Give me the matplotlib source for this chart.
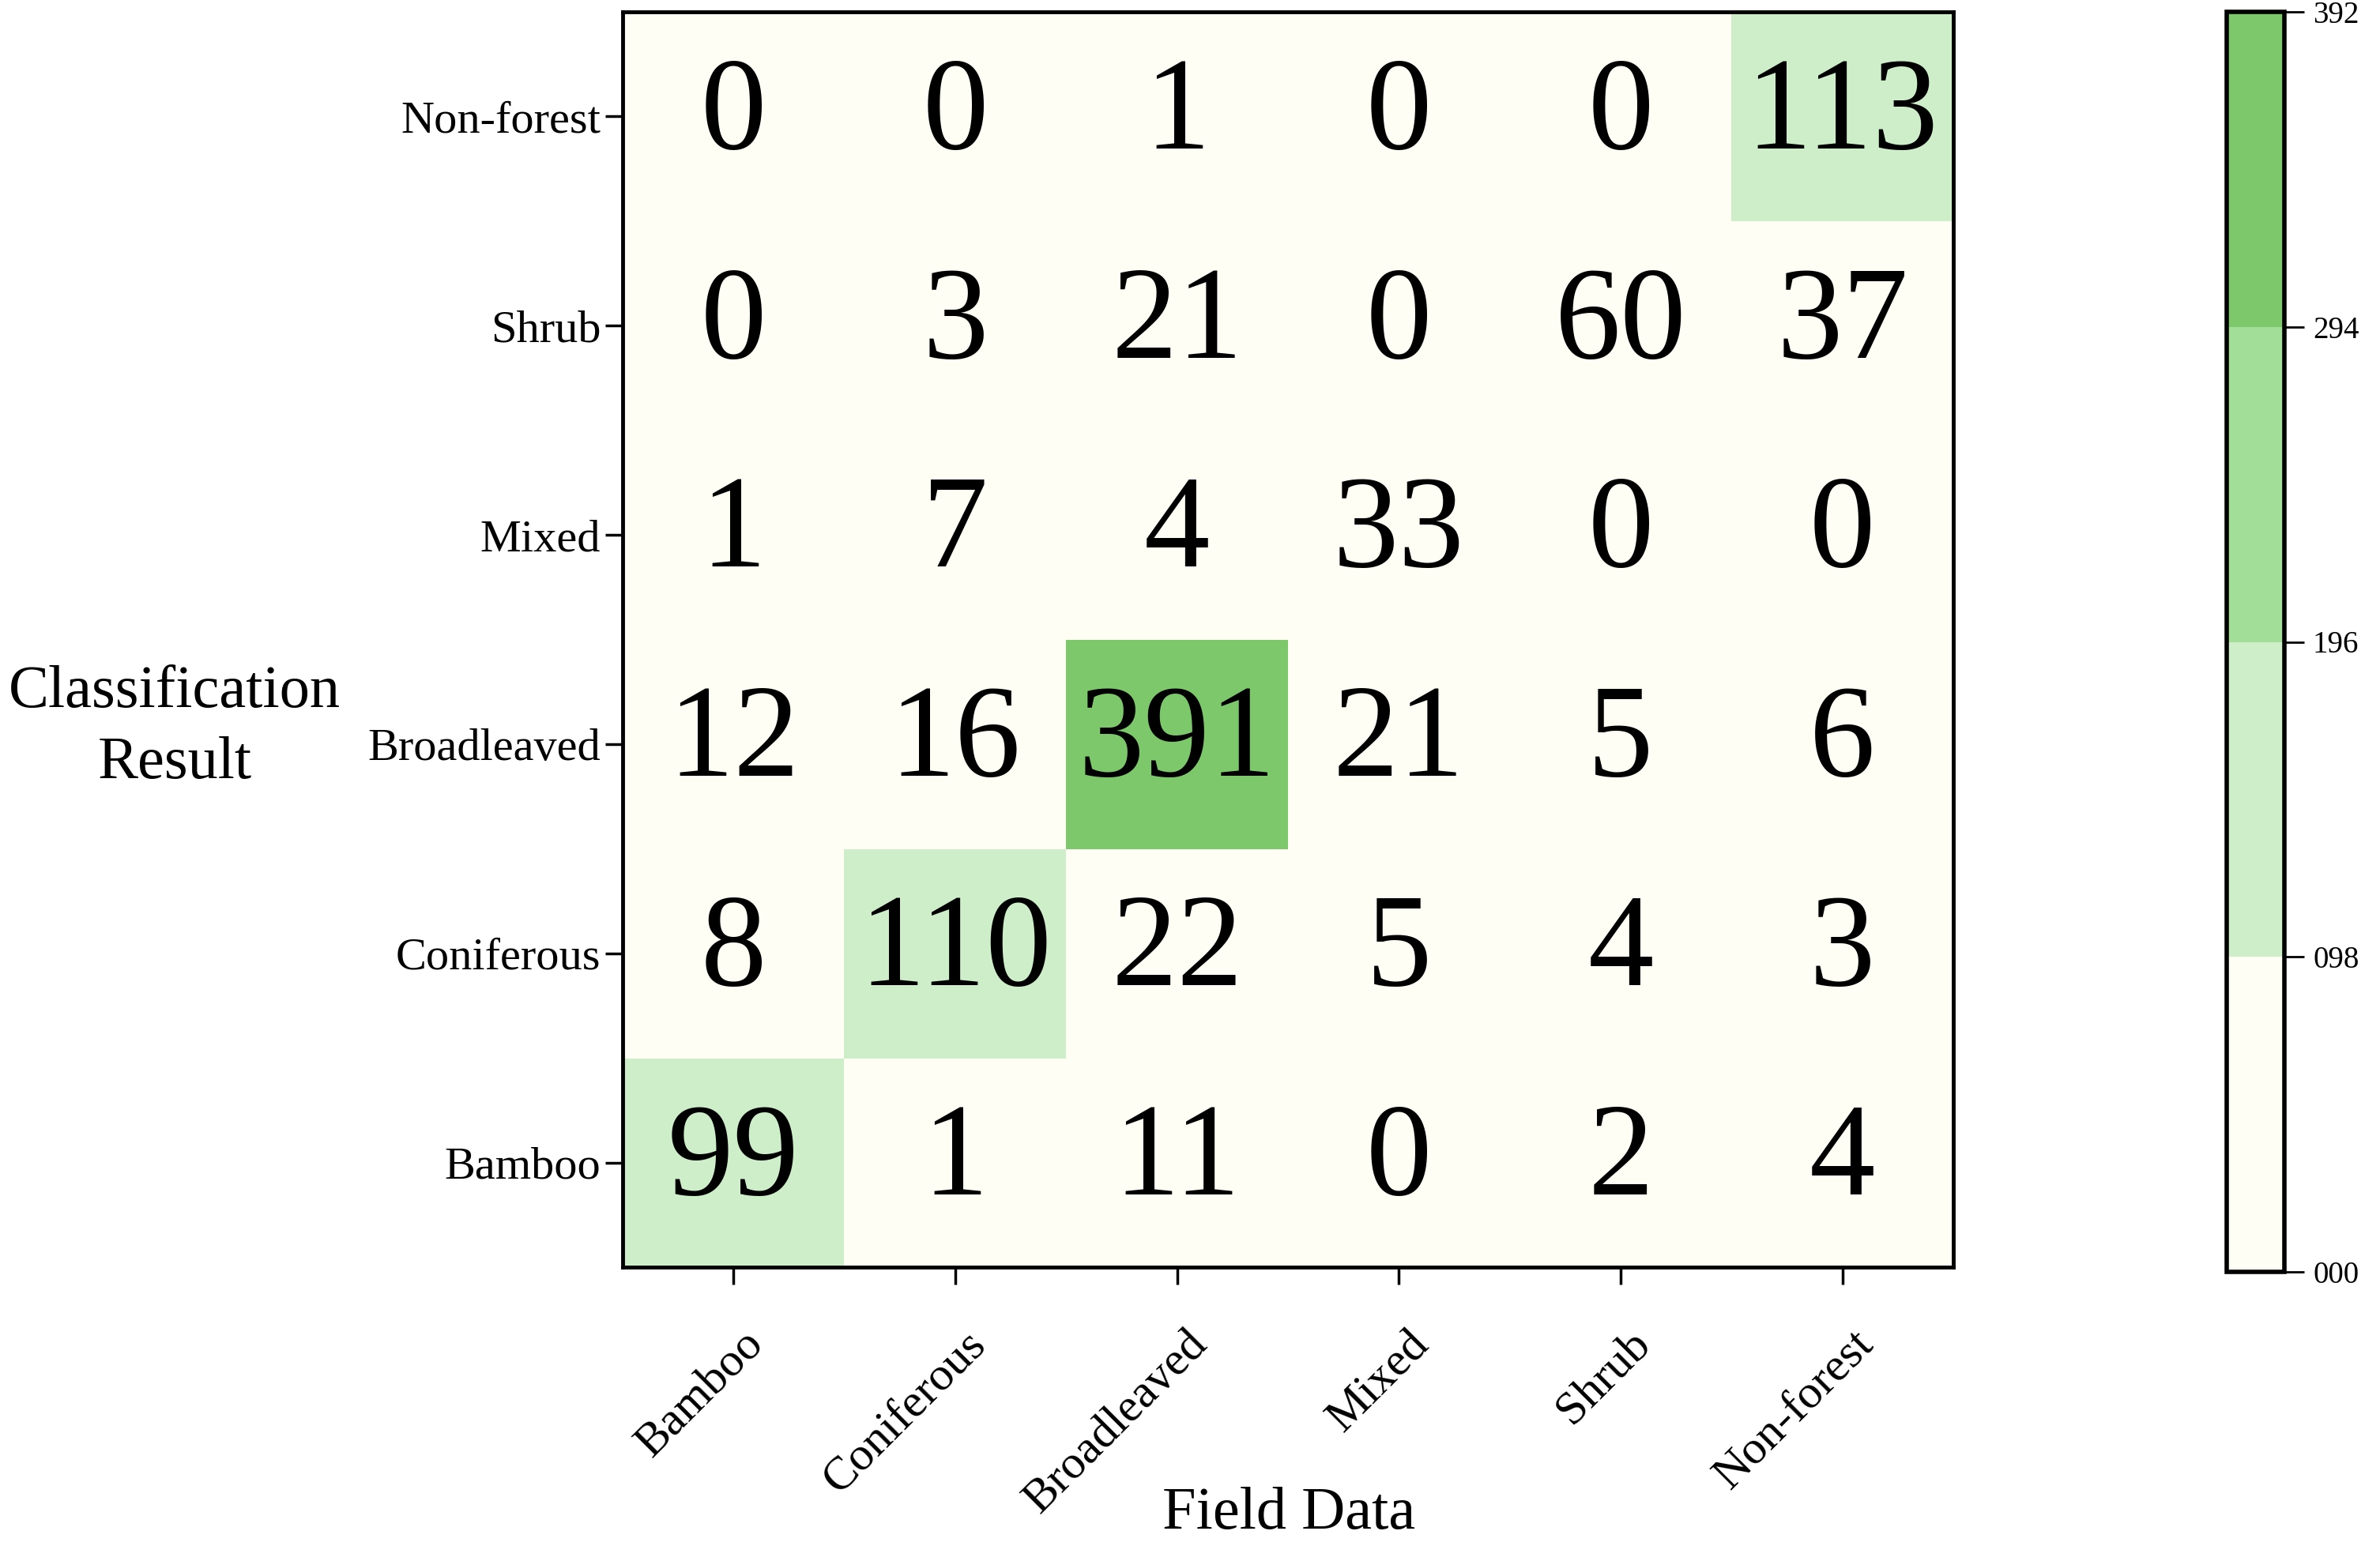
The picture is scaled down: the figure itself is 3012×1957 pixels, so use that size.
import numpy as np
import matplotlib.pyplot as plt
import matplotlib.transforms as mtransforms
from matplotlib.colors import ListedColormap, BoundaryNorm

plt.rcParams['font.family'] = ['Liberation Serif', 'DejaVu Serif']

# 类别（横轴：实地数据，纵轴：分类结果）
field_classes = ['Bamboo', 'Coniferous', 'Broadleaved', 'Mixed', 'Shrub', 'Non-forest']
result_classes = ['Bamboo', 'Coniferous', 'Broadleaved', 'Mixed', 'Shrub', 'Non-forest']

# 混淆矩阵，行从 Bamboo（底部）到 Non-forest（顶部）
row_bamboo = [99, 1, 11, 0, 2, 4]
row_coniferous = [8, 110, 22, 5, 4, 3]
row_broadleaved = [12, 16, 391, 21, 5, 6]
row_mixed = [1, 7, 4, 33, 0, 0]
row_shrub = [0, 3, 21, 0, 60, 37]
row_nonforest = [0, 0, 1, 0, 0, 113]

cbar_bounds = [0, 98, 196, 294, 392]
cbar_colors = ['#fefef4', '#cdeec8', '#a3de98', '#7cc86a']

matrix = np.array([row_bamboo, row_coniferous, row_broadleaved,
                   row_mixed, row_shrub, row_nonforest])

fig = plt.figure(figsize=(30.12, 19.57), dpi=100)
W, H = 3012, 1957
ax = fig.add_axes([788 / W, 1 - 1604 / H, (2472 - 788) / W, (1604 - 15) / H])
cax = fig.add_axes([2818 / W, 1 - 1610 / H, 73 / W, 1595 / H])

cmap = ListedColormap(cbar_colors)
norm = BoundaryNorm(cbar_bounds, cmap.N)
im = ax.imshow(matrix, cmap=cmap, norm=norm, origin='lower', aspect='auto')

# 单元格数字
for i in range(matrix.shape[0]):
    for j in range(matrix.shape[1]):
        ax.text(j, i, str(matrix[i, j]), ha='center', va='center',
                fontsize=120, color='black')

ax.set_xticks(range(len(field_classes)))
ax.set_xticklabels(field_classes, rotation=45, ha='right', va='top',
                   rotation_mode='anchor', fontsize=43)
ax.set_yticks(range(len(result_classes)))
ax.set_yticklabels(result_classes, fontsize=42)
ax.tick_params(length=16, width=2.5, pad=4)
for s in ax.spines.values():
    s.set_linewidth(3.5)

# x 刻度标签稍微往右下移
shift = mtransforms.ScaledTranslation(8 / 72, -31 / 72, fig.dpi_scale_trans)
for lbl in ax.get_xticklabels():
    lbl.set_transform(lbl.get_transform() + shift)

fig.text(849 / 1568, 1 - 998 / 1019, 'Field Data', fontsize=55,
         ha='center', va='center')
fig.text(115 / 1568, 1 - 480 / 1019, 'Classification\nResult', fontsize=55,
         ha='center', va='center', linespacing=1.4)

cb = fig.colorbar(im, cax=cax, ticks=cbar_bounds)
cb.ax.set_yticklabels([f'{v:03d}' for v in cbar_bounds], fontsize=28)
cb.ax.tick_params(length=18, width=2, pad=8)
cb.outline.set_linewidth(4)

fig.savefig('out.png', dpi=100)
